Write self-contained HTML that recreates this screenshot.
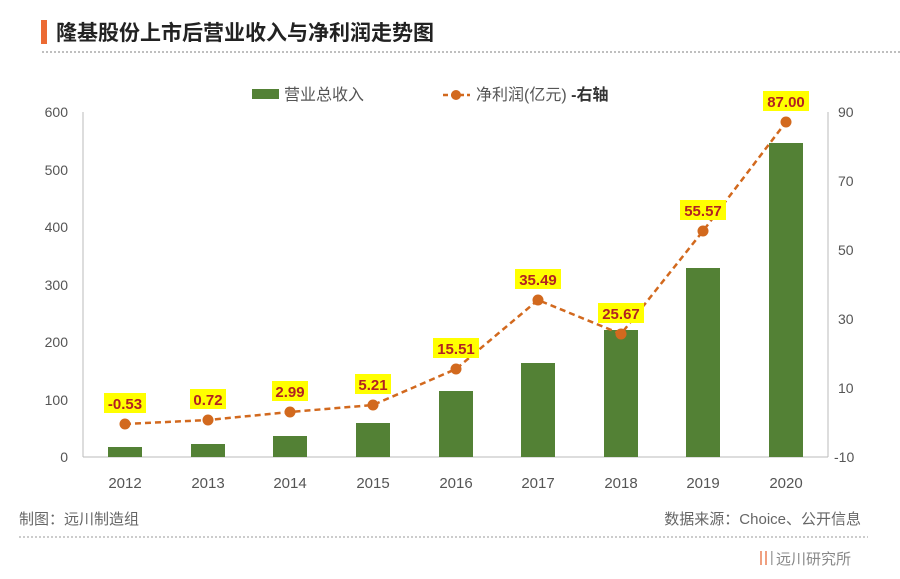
<!DOCTYPE html>
<html><head><meta charset="utf-8"><style>
body{margin:0;background:#fff;}
svg text{font-family:"Liberation Sans","Noto Sans CJK SC",sans-serif;}
</style></head><body>
<svg width="900" height="574" viewBox="0 0 900 574" xmlns="http://www.w3.org/2000/svg">
<rect x="41" y="20" width="6" height="24" fill="#ec6a33"/>
<text x="56" y="40" font-size="21" font-weight="bold" fill="#222">隆基股份上市后营业收入与净利润走势图</text>
<line x1="42" y1="52" x2="900" y2="52" stroke="#aaa" stroke-width="1.5" stroke-dasharray="2,2"/>
<rect x="252" y="89" width="27" height="10" fill="#538135"/>
<text x="284" y="100" font-size="16" fill="#555">营业总收入</text>
<line x1="443" y1="95" x2="470" y2="95" stroke="#d2691e" stroke-width="2.5" stroke-dasharray="5,3"/>
<circle cx="456" cy="95" r="5" fill="#d2691e"/>
<text x="476" y="100" font-size="16" fill="#555">净利润(亿元) <tspan font-weight="bold" fill="#333">-右轴</tspan></text>
<g font-size="14" fill="#555" text-anchor="end">
<text x="68" y="117">600</text><text x="68" y="175">500</text><text x="68" y="232">400</text>
<text x="68" y="290">300</text><text x="68" y="347">200</text><text x="68" y="405">100</text><text x="68" y="462">0</text>
</g>
<g font-size="14" fill="#555">
<text x="838" y="117">90</text><text x="838" y="186">70</text><text x="838" y="255">50</text>
<text x="838" y="324">30</text><text x="838" y="393">10</text><text x="834" y="462">-10</text>
</g>
<line x1="83" y1="112" x2="83" y2="457" stroke="#bbb"/>
<line x1="828" y1="112" x2="828" y2="457" stroke="#bbb"/>
<line x1="83" y1="457" x2="828" y2="457" stroke="#bbb"/>
<g fill="#538135">
<rect x="108" y="447" width="34" height="10"/>
<rect x="191" y="444" width="34" height="13"/>
<rect x="273" y="436" width="34" height="21"/>
<rect x="356" y="423" width="34" height="34"/>
<rect x="439" y="391" width="34" height="66"/>
<rect x="521" y="363" width="34" height="94"/>
<rect x="604" y="330" width="34" height="127"/>
<rect x="686" y="268" width="34" height="189"/>
<rect x="769" y="143" width="34" height="314"/>
</g>
<polyline points="125,424 208,420 290,412 373,405 456,369 538,300 621,334 703,231 786,122" fill="none" stroke="#d2691e" stroke-width="2.5" stroke-dasharray="6,4"/>
<g fill="#d2691e">
<circle cx="125" cy="424" r="5.5"/><circle cx="208" cy="420" r="5.5"/><circle cx="290" cy="412" r="5.5"/>
<circle cx="373" cy="405" r="5.5"/><circle cx="456" cy="369" r="5.5"/><circle cx="538" cy="300" r="5.5"/>
<circle cx="621" cy="334" r="5.5"/><circle cx="703" cy="231" r="5.5"/><circle cx="786" cy="122" r="5.5"/>
</g>
<g font-size="15" font-weight="bold" fill="#b22222" text-anchor="middle">
<rect x="104" y="393" width="42" height="20" fill="#ffff00"/><text x="125" y="409">-0.53</text>
<rect x="190" y="389" width="36" height="20" fill="#ffff00"/><text x="208" y="405">0.72</text>
<rect x="272" y="381" width="36" height="20" fill="#ffff00"/><text x="290" y="397">2.99</text>
<rect x="355" y="374" width="36" height="20" fill="#ffff00"/><text x="373" y="390">5.21</text>
<rect x="433" y="338" width="46" height="20" fill="#ffff00"/><text x="456" y="354">15.51</text>
<rect x="515" y="269" width="46" height="20" fill="#ffff00"/><text x="538" y="285">35.49</text>
<rect x="598" y="303" width="46" height="20" fill="#ffff00"/><text x="621" y="319">25.67</text>
<rect x="680" y="200" width="46" height="20" fill="#ffff00"/><text x="703" y="216">55.57</text>
<rect x="763" y="91" width="46" height="20" fill="#ffff00"/><text x="786" y="107">87.00</text>
</g>
<g font-size="15" fill="#555" text-anchor="middle">
<text x="125" y="488">2012</text><text x="208" y="488">2013</text><text x="290" y="488">2014</text>
<text x="373" y="488">2015</text><text x="456" y="488">2016</text><text x="538" y="488">2017</text>
<text x="621" y="488">2018</text><text x="703" y="488">2019</text><text x="786" y="488">2020</text>
</g>
<text x="19" y="524" font-size="15" fill="#666">制图：远川制造组</text>
<text x="861" y="524" font-size="15" fill="#666" text-anchor="end">数据来源：Choice、公开信息</text>
<line x1="19" y1="537" x2="868" y2="537" stroke="#bbb" stroke-width="1.5" stroke-dasharray="2,2"/>
<rect x="760" y="551" width="2" height="14" fill="#f0a080"/>
<rect x="765" y="551" width="2" height="14" fill="#f0a080"/>
<rect x="771" y="551" width="1.5" height="14" fill="#aaa"/>
<text x="776" y="564" font-size="15" fill="#888">远川研究所</text>
</svg>
</body></html>
